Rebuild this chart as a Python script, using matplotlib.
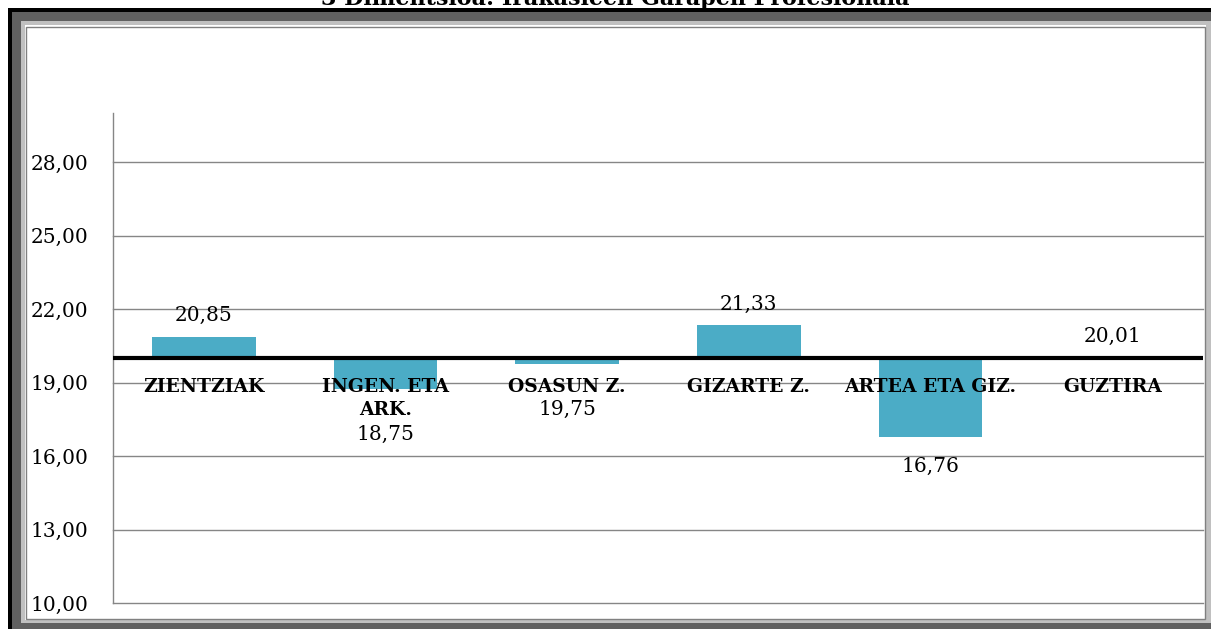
import matplotlib
matplotlib.use("Agg")
import matplotlib.pyplot as plt
from matplotlib.patches import Rectangle
from matplotlib.ticker import FuncFormatter

# ---- data ----
categories = ["ZIENTZIAK", "INGEN. ETA\nARK.", "OSASUN Z.", "GIZARTE Z.", "ARTEA ETA GIZ.", "GUZTIRA"]
values = [20.85, 18.75, 19.75, 21.33, 16.76, 20.01]
baseline = 20.01
yticks = [10, 13, 16, 19, 22, 25, 28]
title = "3 Dimentsioa: Irakasleen Garapen Profesionala"

W, H = 1211, 629
fig = plt.figure(figsize=(W / 100, H / 100), dpi=100)
fig.patch.set_facecolor("white")


def frect(x0, y0, x1, y1, **kw):
    """rectangle given in pixel coords (top-left origin)"""
    r = Rectangle((x0 / W, 1 - y1 / H), (x1 - x0) / W, (y1 - y0) / H,
                  transform=fig.transFigure, **kw)
    fig.patches.append(r)


# frame
frect(8, 8, W + 5, H + 5, facecolor="black", edgecolor="none", zorder=0)
frect(12, 12, W + 5, H + 5, facecolor="#606060", edgecolor="none", zorder=0.1)
frect(21, 21, W, 623, facecolor="#c0c0c0", edgecolor="none", zorder=0.2)
frect(25, 25, 1206, 620, facecolor="white", edgecolor="none", zorder=0.3)
frect(26.5, 26.5, 1205, 619, facecolor="white", edgecolor="#808080", linewidth=1.0, zorder=0.4)

fig.text(615 / W, 1 - 5 / H, title, ha="center", va="baseline",
         fontsize=16, fontweight="bold", family="DejaVu Serif", color="black", zorder=5)

ax = fig.add_axes([113 / W, (H - 603) / H, 1090 / W, 490 / H])
ax.set_zorder(2)
ax.set_facecolor("none")
ax.set_xlim(-0.5, len(categories) - 0.5)
ax.set_ylim(10, 30)
ax.set_yticks(yticks)
ax.yaxis.set_major_formatter(FuncFormatter(lambda v, p: f"{v:.2f}".replace(".", ",")))
ax.tick_params(axis="y", length=0, pad=18, labelsize=14.5)
for lab in ax.get_yticklabels():
    lab.set_family("DejaVu Serif")
ax.set_xticks([])
ax.grid(axis="y", color="#868686", linewidth=1.0, zorder=0)
for gl in ax.get_ygridlines():
    gl.set_clip_on(False)
ax.set_axisbelow(True)
for s in ["top", "right", "bottom"]:
    ax.spines[s].set_visible(False)
ax.spines["left"].set_color("#868686")
ax.spines["left"].set_linewidth(1.0)

xs = list(range(len(categories)))
ax.bar(xs, [v - baseline for v in values], bottom=baseline, width=0.57,
       color="#4BACC6", zorder=2)
ax.axhline(baseline, color="black", linewidth=3, zorder=3)

px_per_unit = 490 / 20.0

for i, (cat, v) in enumerate(zip(categories, values)):
    nlines = cat.count("\n") + 1
    ax.annotate(cat, xy=(i, baseline), xytext=(0, -20), textcoords="offset pixels",
                ha="center", va="top", fontsize=13.5, fontweight="bold",
                family="DejaVu Serif", linespacing=1.4, zorder=4)
    label = f"{v:.2f}".replace(".", ",")
    if v >= baseline:
        ax.annotate(label, xy=(i, v), xytext=(0, 12), textcoords="offset pixels",
                    ha="center", va="bottom", fontsize=14.5, family="DejaVu Serif", zorder=4)
    else:
        bar_px = (baseline - v) * px_per_unit
        needed = 42 + (nlines - 1) * 25
        off = max(20, needed - bar_px)
        ax.annotate(label, xy=(i, v), xytext=(0, -off), textcoords="offset pixels",
                    ha="center", va="top", fontsize=14.5, family="DejaVu Serif", zorder=4)

fig.savefig("out.png", dpi=100)
